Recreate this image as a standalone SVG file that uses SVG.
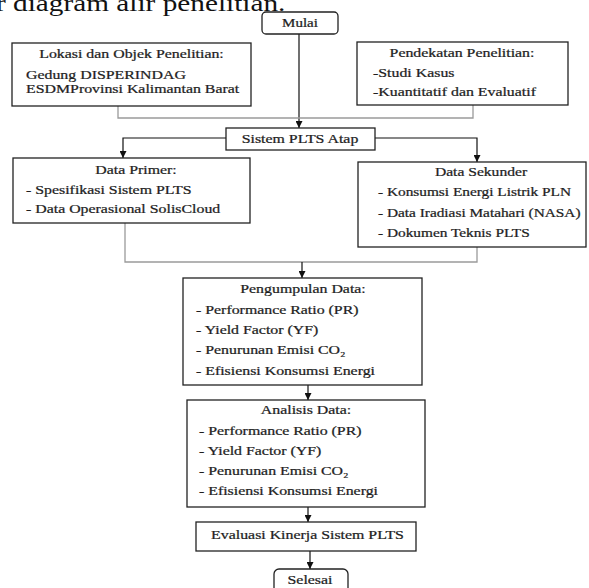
<svg xmlns="http://www.w3.org/2000/svg" width="589" height="588" viewBox="0 0 589 588">
<style>
text{font-family:"Liberation Serif","Times New Roman",serif;fill:#1e1e1e;stroke:#1e1e1e;stroke-width:0.25;font-size:13px}
.c{text-anchor:middle}
.big{font-size:24px;fill:#111;stroke:none}
.box{fill:#fff;stroke:#222;stroke-width:1.3}
.ln{fill:none;stroke:#111;stroke-width:1.2}
.gr{fill:none;stroke:#9a9a9a;stroke-width:1.3}
</style>
<defs>
<marker id="ah" markerUnits="userSpaceOnUse" markerWidth="7" markerHeight="7" refX="7" refY="3.5" orient="auto"><path d="M0,0 L7,3.5 L0,7 z" fill="#111"/></marker>
</defs>
<rect width="589" height="588" fill="#fff"/>
<text class="big" transform="translate(-4 11) scale(1.22 1)">r diagram alir penelitian.</text>

<g id="connectors">
<path class="ln" d="M299,34 V128" marker-end="url(#ah)"/>
<path class="gr" d="M118,106 V118 H473 V105"/>
<path class="ln" d="M226,138 H123 V158" marker-end="url(#ah)"/>
<path class="ln" d="M375,138 H477 V162" marker-end="url(#ah)"/>
<path class="gr" d="M125,223 V262 H477 V247"/>
<path class="ln" d="M302,262 V278" marker-end="url(#ah)"/>
<path class="ln" d="M308,385 V400" marker-end="url(#ah)"/>
<path class="ln" d="M308,507 V522" marker-end="url(#ah)"/>
<path class="ln" d="M310,551 V569" marker-end="url(#ah)"/>
</g>

<g id="mulai">
<rect class="box" x="262" y="12" width="76" height="22" rx="4"/>
<text class="c" transform="translate(300 27) scale(1.2 1)" style="font-size:12.5px">Mulai</text>
</g>

<g id="lokasi">
<rect class="box" x="12" y="43" width="239" height="63"/>
<text class="c" transform="translate(131.5 58) scale(1.22 1)">Lokasi dan Objek Penelitian:</text>
<text transform="translate(26 79) scale(1.22 1)">Gedung DISPERINDAG</text>
<text transform="translate(26 93) scale(1.22 1)">ESDMProvinsi Kalimantan Barat</text>
</g>

<g id="pendekatan">
<rect class="box" x="357" y="42" width="211" height="63"/>
<text class="c" transform="translate(462 57) scale(1.22 1)">Pendekatan Penelitian:</text>
<text transform="translate(373 77) scale(1.22 1)">-Studi Kasus</text>
<text transform="translate(373 96) scale(1.22 1)">-Kuantitatif dan Evaluatif</text>
</g>

<g id="sistem">
<rect class="box" x="226" y="128" width="149" height="22"/>
<text class="c" transform="translate(300 143) scale(1.22 1)">Sistem PLTS Atap</text>
</g>

<g id="primer">
<rect class="box" x="13" y="158" width="237" height="65"/>
<text class="c" transform="translate(136 174) scale(1.22 1)">Data Primer:</text>
<text transform="translate(26 194) scale(1.22 1)">- Spesifikasi Sistem PLTS</text>
<text transform="translate(26 213) scale(1.22 1)">- Data Operasional SolisCloud</text>
</g>

<g id="sekunder">
<rect class="box" x="358" y="162" width="228" height="85"/>
<text class="c" transform="translate(481 176) scale(1.2 1)">Data Sekunder</text>
<text transform="translate(378 196) scale(1.18 1)">- Konsumsi Energi Listrik PLN</text>
<text transform="translate(378 217) scale(1.18 1)">- Data Iradiasi Matahari (NASA)</text>
<text transform="translate(378 237) scale(1.18 1)">- Dokumen Teknis PLTS</text>
</g>

<g id="pengumpulan">
<rect class="box" x="183" y="278" width="239" height="107"/>
<text class="c" transform="translate(303 293) scale(1.22 1)">Pengumpulan Data:</text>
<text transform="translate(196 314) scale(1.22 1)">- Performance Ratio (PR)</text>
<text transform="translate(196 334) scale(1.22 1)">- Yield Factor (YF)</text>
<text transform="translate(196 354) scale(1.22 1)">- Penurunan Emisi CO₂</text>
<text transform="translate(196 375) scale(1.22 1)">- Efisiensi Konsumsi Energi</text>
</g>

<g id="analisis">
<rect class="box" x="187" y="400" width="238" height="107"/>
<text class="c" transform="translate(306 414) scale(1.22 1)">Analisis Data:</text>
<text transform="translate(199 435) scale(1.22 1)">- Performance Ratio (PR)</text>
<text transform="translate(199 455) scale(1.22 1)">-  Yield Factor (YF)</text>
<text transform="translate(199 475) scale(1.22 1)">- Penurunan Emisi CO₂</text>
<text transform="translate(199 495) scale(1.22 1)">- Efisiensi Konsumsi Energi</text>
</g>

<g id="evaluasi">
<rect class="box" x="196" y="522" width="220" height="29"/>
<text class="c" transform="translate(307.5 539) scale(1.22 1)">Evaluasi Kinerja Sistem PLTS</text>
</g>

<g id="selesai">
<rect class="box" x="274" y="569" width="74" height="30" rx="5"/>
<text class="c" transform="translate(310 584) scale(1.22 1)">Selesai</text>
</g>
</svg>
